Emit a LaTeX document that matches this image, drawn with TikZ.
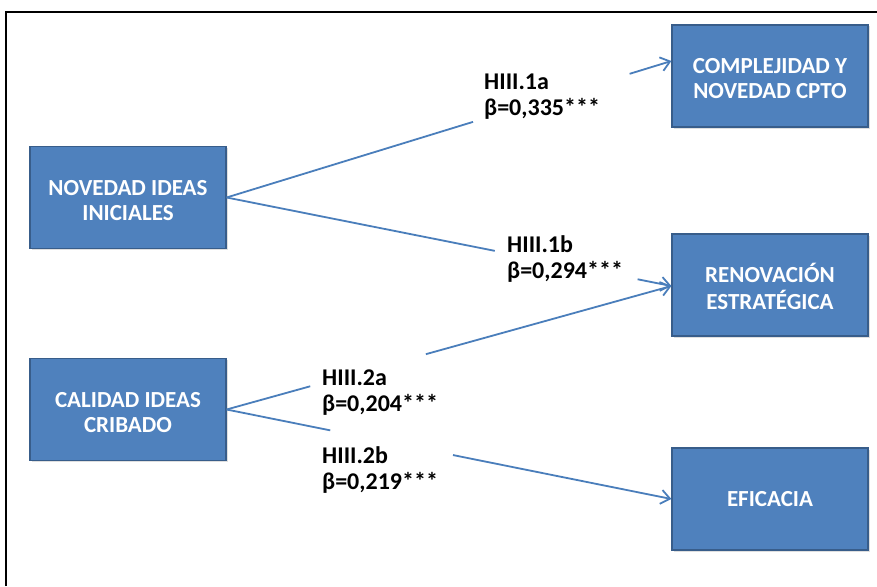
\documentclass[tikz,border=0pt]{standalone}
\usepackage{fontspec}
\setmainfont{Carlito}
\usetikzlibrary{arrows.meta,calc,shadows}
\definecolor{boxfill}{HTML}{4F81BD}
\definecolor{boxline}{HTML}{385D8A}
\definecolor{linkcol}{HTML}{4A7EBB}
% two centred lines, set slightly below the middle of the box
\newcommand{\boxlines}[2]{\raisebox{-5pt}[\height][\depth]{\begin{tabular}{@{}c@{}}#1\\#2\end{tabular}}}
\tikzset{
  varbox/.style={draw=boxline, line width=1.2pt, fill=boxfill, text=white,
    minimum width=196pt, minimum height=102pt, inner sep=0pt, align=center,
    font=\fontsize{23}{25}\selectfont\bfseries,
    drop shadow={opacity=0.25, shadow xshift=1.5pt, shadow yshift=-1.5pt}},
  coef/.style={anchor=west, inner sep=0pt, align=left, text=black,
    font=\fontsize{24}{26}\selectfont\bfseries},
  link/.style={draw=linkcol, line width=1.8pt},
  linkarrow/.style={link, -{Straight Barb[length=9pt, width=14pt, line width=1.8pt]}}
}
\begin{document}
\begin{tikzpicture}[x=1pt, y=-1pt]
\useasboundingbox (0,0) rectangle (877,586);
\fill[white] (0,0) rectangle (877,586);
% frame
\draw[black, line width=2pt] (6,586) -- (6,12) -- (877,12);

% variables
\node[varbox] (nov) at (128,197.5) {\boxlines{NOVEDAD IDEAS}{INICIALES}};
\node[varbox] (cal) at (128,409.5) {\boxlines{CALIDAD IDEAS}{CRIBADO}};
\node[varbox] (comp) at (770,76) {\boxlines{COMPLEJIDAD Y}{NOVEDAD CPTO}};
\node[varbox] (ren) at (770,285) {\boxlines{RENOVACIÓN}{ESTRATÉGICA}};
\node[varbox] (eff) at (770,499) {EFICACIA};

% arrow targets on the left sides
\coordinate (compin) at ($(comp.west)+(0,-15)$);
\coordinate (renin) at ($(ren.west)+(0,1)$);
\coordinate (effin) at (eff.west);

% paths, interrupted where the coefficients are written
\draw[link] (nov.east) -- ($(nov.east)!0.554!(compin)$);
\draw[linkarrow] ($(nov.east)!0.906!(compin)$) -- (compin);

\draw[link] (nov.east) -- ($(nov.east)!0.603!(renin)$);
\draw[linkarrow] ($(nov.east)!0.924!(renin)$) -- (renin);

\draw[link] (cal.east) -- ($(cal.east)!0.188!(renin)$);
\draw[linkarrow] ($(cal.east)!0.448!(renin)$) -- (renin);

\draw[link] (cal.east) -- ($(cal.east)!0.233!(effin)$);
\draw[linkarrow] ($(cal.east)!0.509!(effin)$) -- (effin);

% coefficients
\node[coef] (h1a) at (484,97) {HIII.1a\\β=0,335***};
\node[coef] (h1b) at (507,259) {HIII.1b\\β=0,294***};
\node[coef] (h2a) at (322,393) {HIII.2a\\β=0,204***};
\node[coef] (h2b) at (322,470) {HIII.2b\\β=0,219***};
\end{tikzpicture}
\end{document}
